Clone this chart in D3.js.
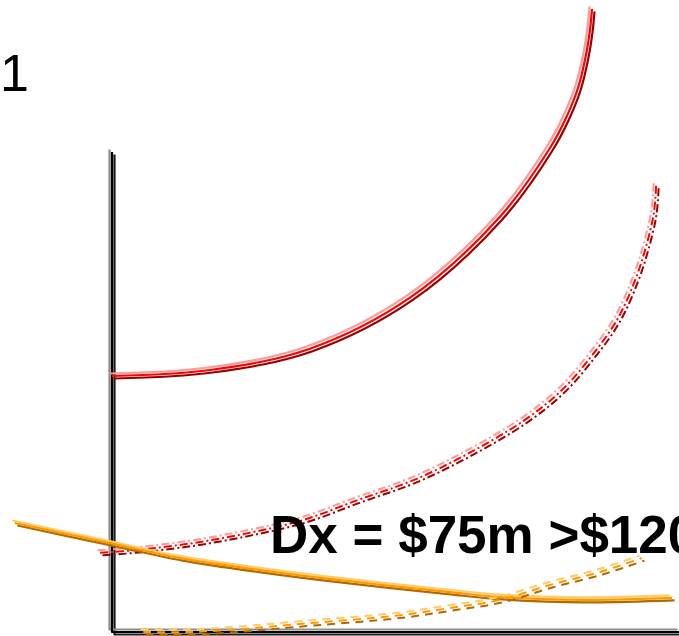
<!DOCTYPE html>
<html>
<head>
<meta charset="utf-8">
<script src="https://cdn.jsdelivr.net/npm/d3@7"></script>
<style>
  html, body { margin: 0; padding: 0; background: #fff; }
  svg { display: block; }
  text { font-family: "Liberation Sans", Arial, sans-serif; }
</style>
</head>
<body>
<svg id="chart" width="679" height="636"></svg>
<script>
// Conceptual cost curves (unitless 0-100 scale on both axes)
const redSolidX = [0, 17.25, 34.86, 52.46, 68.31, 77.11, 79.93, 82.04, 83.45, 84.15, 84.51];
const redSolidY = [53.33, 54.58, 59.02, 69.65, 86.52, 100.83, 107.08, 113.33, 120.21, 125.42, 129.79];

const redDashX = [-2.1, 4.4, 14.1, 23.9, 33.6, 43.3, 53.2, 62.9, 72.7, 79.2, 84.3, 88.9, 92.1, 94.0, 95.4, 95.8];
const redDashY = [16.5, 17.1, 18.5, 20.6, 23.3, 27.5, 31.7, 37.3, 44.2, 50.4, 57.3, 65.0, 73.3, 80.2, 87.3, 93.1];

const orangeSolidX = [-17.1, -0.4, 12.0, 26.1, 40.1, 59.5, 68.3, 82.9, 98.6];
const orangeSolidY = [22.7, 18.5, 15.4, 12.9, 10.8, 8.3, 7.3, 6.7, 7.1];

const orangeDashX = [5.5, 13.7, 22.5, 31.3, 50.7, 59.5, 68.3, 77.1, 85.9, 93.3];
const orangeDashY = [0, 0, 0.6, 1.5, 3.5, 5.0, 6.7, 9.8, 12.5, 15.4];

const cornerLabel = "1";
const noteLabel = "Dx = $75m >$120";

const svg = d3.select("#chart");

const x = d3.scaleLinear().domain([0, 100]).range([112, 680]);
const y = d3.scaleLinear().domain([0, 100]).range([632, 152]);

const line = d3.line()
  .x(d => x(d[0]))
  .y(d => y(d[1]))
  .curve(d3.curveCatmullRom.alpha(0.5));

const axisLine = d3.line().x(d => x(d[0])).y(d => y(d[1]));

// Each stroke is drawn three times: a dark shadow, a pale highlight and the main colour
function tripleStroke(pathD, colors, opts) {
  const g = svg.append("g");
  const layers = [
    { c: colors.dark, dx: 2.5, dy: 2.5 },
    { c: colors.light, dx: -2.5, dy: -2.5 },
    { c: colors.main, dx: 0, dy: 0 }
  ];
  layers.forEach(l => {
    g.append("path")
      .attr("d", pathD)
      .attr("transform", `translate(${l.dx},${l.dy})`)
      .attr("fill", "none")
      .attr("stroke", l.c)
      .attr("stroke-width", opts.width)
      .attr("stroke-dasharray", opts.dash || null)
      .attr("stroke-linecap", "butt")
      .attr("stroke-linejoin", "round");
  });
}

const red = { light: "#ff9a9a", main: "#ff0000", dark: "#9a0000" };
const orange = { light: "#ffcc66", main: "#ff9900", dark: "#b06a00" };
const axisCol = { light: "#8c8c8c", main: "#000000", dark: "#1a1a1a" };

// Axes: L-shaped frame
tripleStroke(axisLine([[0, 100], [0, 0], [100, 0]]), axisCol, { width: 2.2 });

const zip = (xs, ys) => xs.map((v, i) => [v, ys[i]]);

tripleStroke(line(zip(redDashX, redDashY)), red, { width: 2, dash: "8,3,2,3" });
tripleStroke(line(zip(orangeSolidX, orangeSolidY)), orange, { width: 2.2 });
tripleStroke(line(zip(orangeDashX, orangeDashY)), orange, { width: 2, dash: "8,6" });
tripleStroke(line(zip(redSolidX, redSolidY)), red, { width: 2.2 });

svg.append("text")
  .attr("x", 0)
  .attr("y", 91)
  .attr("font-size", 52)
  .attr("fill", "#000")
  .text(cornerLabel);

svg.append("text")
  .attr("x", 270)
  .attr("y", 553)
  .attr("font-weight", "bold")
  .attr("font-size", 53)
  .attr("fill", "#000")
  .text(noteLabel);
</script>
</body>
</html>
